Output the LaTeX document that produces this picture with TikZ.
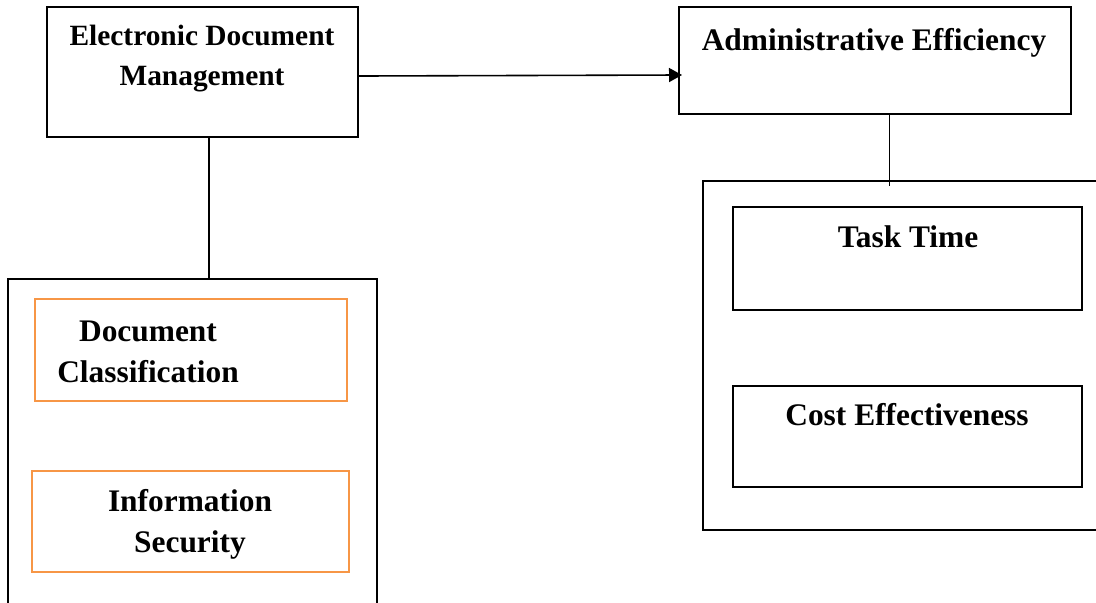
\documentclass[tikz,border=0pt]{standalone}
\usepackage{fontspec}
\setmainfont{Liberation Serif}
\usetikzlibrary{arrows.meta}
\definecolor{boxorange}{HTML}{F79646}
\begin{document}
\begin{tikzpicture}[x=0.5pt,y=-0.5pt,>={Triangle[length=6.5pt,width=7pt]},
        box/.style={draw, rectangle, line width=1pt, inner sep=0pt},
        subbox/.style={draw=boxorange, rectangle, line width=1pt, inner sep=0pt},
        lbl/.style={font=\fontsize{15.7}{20.5}\selectfont\bfseries, align=center, inner sep=0pt}]
        \clip (0,0) rectangle (1096,602);
        \fill[white] (0,0) rectangle (1096,602);

        % main boxes
        \node (edm) [box, minimum width=155.5pt, minimum height=65pt] at (202.5,72) {};
        \node (ae) [box, minimum width=196pt, minimum height=53.5pt] at (875,60.5) {};
        \node (grpL) [box, minimum width=184.5pt, minimum height=185.5pt] at (192.5,464.5) {};
        \node (grpR) [box, minimum width=223.5pt, minimum height=174.5pt] at (926.5,355.5) {};

        % inner boxes
        \node (dc) [subbox, minimum width=156pt, minimum height=51pt] at (191,350) {};
        \node (is) [subbox, minimum width=158.5pt, minimum height=50.5pt] at (190.5,521.5) {};
        \node (tt) [box, minimum width=174.5pt, minimum height=51.5pt] at (907.5,258.5) {};
        \node (ce) [box, minimum width=174.5pt, minimum height=50.5pt] at (907.5,436.5) {};

        % labels
        \node (edmtxt) [lbl, font=\fontsize{14.7}{20}\selectfont\bfseries] at (202,59) {Electronic Document\\Management};
        \node (aetxt) [lbl] at (874,43) {Administrative Efficiency};
        \node (dctxt) [lbl] at (148,351.5) {Document\\Classification};
        \node (istxt) [lbl] at (190,524.5) {Information\\Security};
        \node (tttxt) [lbl] at (908,237) {Task Time};
        \node (cetxt) [lbl] at (907,415) {Cost Effectiveness};

        \draw[->, line width=0.8pt, shorten >=-2pt] ([yshift=-2pt]edm.east) -- ([yshift=-7.25pt]ae.west);
        \draw[line width=0.6pt] ([xshift=3.25pt]edm.south) -- ([xshift=3.25pt]edm.south |- grpL.north);
        \draw[line width=0.5pt, shorten >=-3pt] ([xshift=7pt]ae.south) -- ([xshift=7pt]ae.south |- grpR.north);
    \end{tikzpicture}
\end{document}
